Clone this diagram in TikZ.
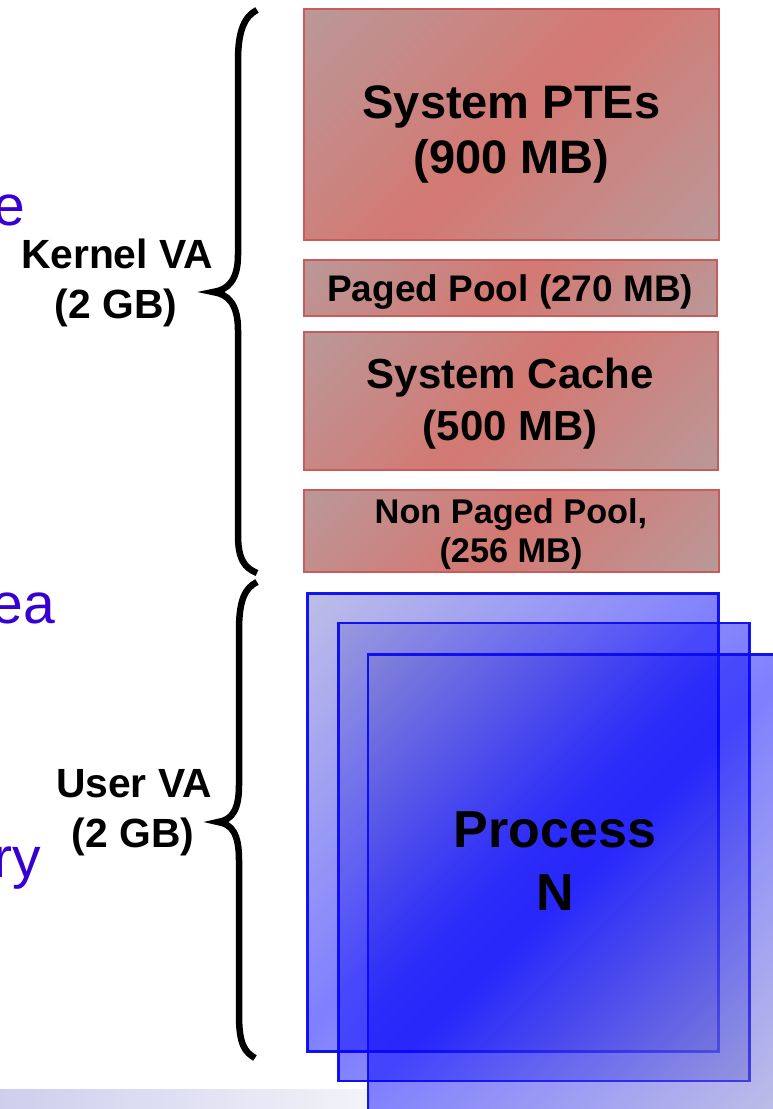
\documentclass[tikz,border=0pt]{standalone}
\usepackage{fontspec}
\setmainfont{Liberation Sans}
\definecolor{rmute}{RGB}{186,152,152}
\definecolor{rmid}{RGB}{212,120,114}
\definecolor{rborder}{RGB}{200,92,92}
\definecolor{bmute}{RGB}{123,123,209}
\definecolor{bmid}{RGB}{0,0,255}
\definecolor{bborder}{RGB}{10,10,240}
\definecolor{purp}{RGB}{55,0,210}
\definecolor{bandL}{RGB}{206,206,238}
\definecolor{bandR}{RGB}{243,243,249}
\pgfdeclareverticalshading{rdiag}{100bp}{color(0bp)=(rmute); color(15bp)=(rmute); color(50bp)=(rmid); color(85bp)=(rmute); color(100bp)=(rmute)}
\pgfdeclareverticalshading{bdiag}{100bp}{color(0bp)=(bmute); color(15bp)=(bmute); color(50bp)=(bmid); color(85bp)=(bmute); color(100bp)=(bmute)}
\tikzset{
  redbox/.style={draw=rborder, line width=2pt, inner sep=0pt, outer sep=0pt,
    shading=rdiag, shading angle=45},
  bluebox/.style={draw=bborder, line width=2.5pt, inner sep=0pt, outer sep=0pt,
    shading=bdiag, shading angle=45,
    fill opacity=0.5, draw opacity=0.95, minimum width=411pt, minimum height=458pt},
  lbl/.style={inner sep=0pt, anchor=base, font=\bfseries},
  bracepath/.style={line width=6.5pt, black},
  cut/.style={inner sep=0pt, anchor=base east, text=purp, font=\fontsize{57}{57}\selectfont}
}
\begin{document}
\begin{tikzpicture}[x=1pt,y=-1pt]
\useasboundingbox (0,0) rectangle (773,1109);
% footer band
\shade[left color=bandL, right color=bandR] (0,1089) rectangle (370,1109);
% partial text on left
\node[cut] (t1) at (25,225) {e};
\node[cut] (t2) at (55,623) {ea};
\node[cut] (t3) at (41,877) {ry};
% red boxes
\node[redbox, minimum width=415pt, minimum height=231pt] (pte) at (511.5,124.5) {};
\node[redbox, minimum width=413.5pt, minimum height=56.5pt] (paged) at (510.25,287.75) {};
\node[redbox, minimum width=414pt, minimum height=138pt] (cache) at (510.5,401) {};
\node[redbox, minimum width=415pt, minimum height=82.5pt] (nonpaged) at (511,530.75) {};
\node[lbl, font=\bfseries\fontsize{47}{47}\selectfont] (pte1) at (511.5,118) {System PTEs};
\node[lbl, font=\bfseries\fontsize{47}{47}\selectfont] (pte2) at (511.5,173) {(900 MB)};
\node[lbl, font=\bfseries\fontsize{37}{37}\selectfont] (paged1) at (510.25,301.5) {Paged Pool (270 MB)};
\node[lbl, font=\bfseries\fontsize{42}{42}\selectfont] (cache1) at (510.5,388) {System Cache};
\node[lbl, font=\bfseries\fontsize{42}{42}\selectfont] (cache2) at (510.5,440) {(500 MB)};
\node[lbl, font=\bfseries\fontsize{34.3}{34.3}\selectfont] (np1) at (511,523) {Non Paged Pool,};
\node[lbl, font=\bfseries\fontsize{34.3}{34.3}\selectfont] (np2) at (511,562) {(256 MB)};
% blue process boxes
\node[bluebox] (p1) at (512.75,822.5) {};
\node[bluebox] (p2) at (543.75,852) {};
\node[bluebox] (p3) at (573.5,883.5) {};
\node[lbl, font=\bfseries\fontsize{52}{52}\selectfont] (pn1) at (555,847) {Process};
\node[lbl, font=\bfseries\fontsize{52}{52}\selectfont] (pn2) at (555,910) {N};
% braces
\draw[bracepath] (257,10) .. controls (245,16) and (238,30) .. (238,60) -- (238,255)
  .. controls (238,280) and (228,290) .. (213,292)
  .. controls (228,294) and (238,304) .. (238,330) -- (238,535)
  .. controls (238,560) and (245,568) .. (257,573);
\draw[bracepath] (257,582) .. controls (245,588) and (239,600) .. (239,630) -- (239,785)
  .. controls (239,810) and (232,820) .. (218,822)
  .. controls (232,824) and (239,834) .. (239,860) -- (239,1015)
  .. controls (239,1045) and (245,1052) .. (255,1058);
% brace labels
\node[lbl, font=\bfseries\fontsize{40.8}{40.8}\selectfont] (k1) at (117,268) {Kernel VA};
\node[lbl, font=\bfseries\fontsize{40.8}{40.8}\selectfont] (k2) at (116,318) {(2 GB)};
\node[lbl, font=\bfseries\fontsize{40.8}{40.8}\selectfont] (u1) at (134,797) {User VA};
\node[lbl, font=\bfseries\fontsize{40.8}{40.8}\selectfont] (u2) at (133,847) {(2 GB)};
\end{tikzpicture}
\end{document}
